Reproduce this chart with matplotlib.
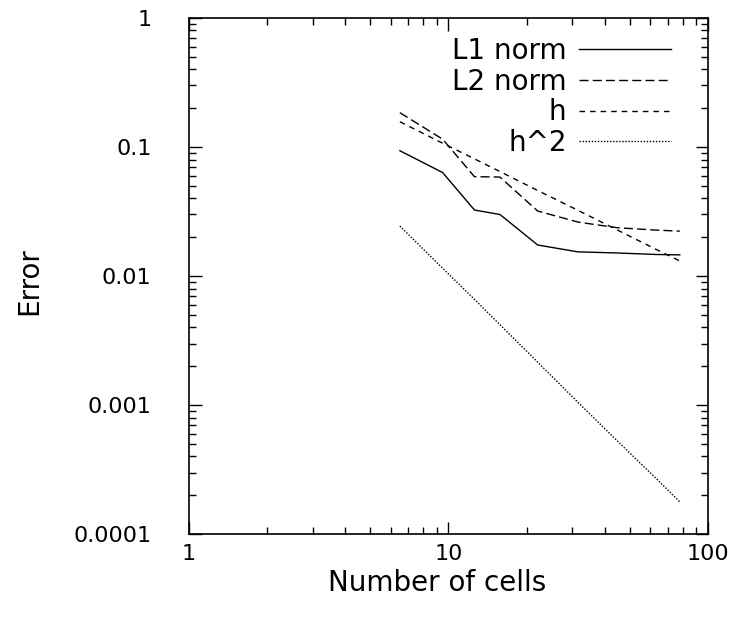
import matplotlib
matplotlib.use("Agg")
import matplotlib.pyplot as plt
from matplotlib.ticker import FixedLocator, LogLocator, NullFormatter

plt.rcParams['font.family'] = ['DejaVu Sans']

# grid resolution (number of cells along one side)
cells = [6.5, 9.5, 12.6, 15.8, 22.1, 31.6, 44.7, 63.2, 78.0]

# measured error norms
l1_norm = [0.0936, 0.0634, 0.0325, 0.0300, 0.0174, 0.0154, 0.0151, 0.0147, 0.0146]
l2_norm = [0.1845, 0.115, 0.0589, 0.0585, 0.0319, 0.0262, 0.0237, 0.0227, 0.0223]

# reference slopes
h_ref = [0.157, 0.107, 0.081, 0.0645, 0.046, 0.0323, 0.0228, 0.0161, 0.0131]
h2_ref = [0.0244, 0.0115, 0.0066, 0.0042, 0.00215, 0.00105, 0.00053, 0.00027, 0.000178]

x_ticks = [1, 10, 100]
x_tick_labels = ["1", "10", "100"]
y_ticks = [0.0001, 0.001, 0.01, 0.1, 1]
y_tick_labels = ["0.0001", "0.001", "0.01", "0.1", "1"]

fig = plt.figure(figsize=(7.53, 6.19), dpi=100)
ax = fig.add_axes([0.251, 0.137, 0.689, 0.834])

ax.plot(cells, l1_norm, color="black", lw=1.0, label="L1 norm")
ax.plot(cells, l2_norm, color="black", lw=1.0, dashes=(6.5, 3), label="L2 norm")
ax.plot(cells, h_ref, color="black", lw=1.0, dashes=(4.0, 3.6), label="h")
ax.plot(cells, h2_ref, color="black", lw=1.0, dashes=(1.0, 1.2), label="h^2")

ax.set_xscale("log")
ax.set_yscale("log")
ax.set_xlim(1, 100)
ax.set_ylim(0.0001, 1)

ax.xaxis.set_major_locator(FixedLocator(x_ticks))
ax.set_xticklabels(x_tick_labels)
ax.yaxis.set_major_locator(FixedLocator(y_ticks))
ax.set_yticklabels(y_tick_labels)
ax.xaxis.set_minor_locator(LogLocator(base=10, subs=range(2, 10)))
ax.yaxis.set_minor_locator(LogLocator(base=10, subs=range(2, 10)))
ax.xaxis.set_minor_formatter(NullFormatter())
ax.yaxis.set_minor_formatter(NullFormatter())

ax.tick_params(which="both", direction="in", top=True, right=True, width=1.0,
               labelsize=16, colors="black")
ax.tick_params(which="major", length=9)
ax.tick_params(which="minor", length=5)
ax.tick_params(axis="x", which="major", pad=7)
ax.tick_params(axis="y", which="major", pad=27)
for s in ax.spines.values():
    s.set_linewidth(1.2)

ax.set_xlabel("Number of cells", fontsize=20)
ax.xaxis.set_label_coords(0.478, -0.068)
ax.set_ylabel("Error", fontsize=20)
ax.yaxis.set_label_coords(-0.28, 0.49)

ax.legend(loc="upper right", frameon=False, markerfirst=False, fontsize=20,
          handlelength=3.3, handletextpad=0.45, labelspacing=0.10,
          borderaxespad=0.0, bbox_to_anchor=(0.95, 0.985))

fig.savefig("out.png", dpi=100)
